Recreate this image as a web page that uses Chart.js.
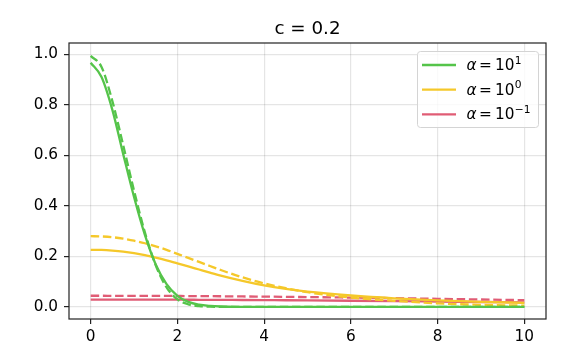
<!DOCTYPE html>
<html>
<head>
<meta charset="utf-8">
<title>c = 0.2</title>
<script src="https://cdn.jsdelivr.net/npm/chart.js@4.4.0/dist/chart.umd.min.js"></script>
<style>
    html, body { margin: 0; padding: 0; background: #fff; }
    #wrap { width: 586px; height: 359px; }
</style>
</head>
<body>
<div id="wrap"><canvas id="LineChart" width="586" height="359"></canvas></div>
<script>
// === data ===
const xVals = [0, 0.25, 0.5, 0.75, 1, 1.25, 1.5, 1.75, 2, 2.25, 2.5, 2.75, 3, 3.5, 4, 4.5, 5, 6, 7, 8, 9, 10];

// alpha = 10^1
const greenSolid  = [0.967, 0.910, 0.780, 0.605, 0.435, 0.285, 0.168, 0.090, 0.044, 0.020, 0.009, 0.004, 0.0015, 0.0003, 0.0001, 0, 0, 0, 0, 0, 0, 0];
const greenDashed = [0.994, 0.950, 0.815, 0.640, 0.460, 0.295, 0.165, 0.077, 0.030, 0.010, 0.003, 0.001, 0.0003, 0, 0, 0, 0, 0, 0, 0, 0, 0];
// alpha = 10^0
const yellowSolid  = [0.226, 0.2255, 0.223, 0.219, 0.213, 0.205, 0.195, 0.184, 0.172, 0.160, 0.148, 0.136, 0.124, 0.103, 0.085, 0.071, 0.060, 0.045, 0.034, 0.026, 0.020, 0.016];
const yellowDashed = [0.280, 0.279, 0.276, 0.270, 0.262, 0.252, 0.240, 0.226, 0.210, 0.194, 0.178, 0.162, 0.146, 0.117, 0.093, 0.074, 0.058, 0.037, 0.024, 0.014, 0.008, 0.005];
// alpha = 10^-1
const redSolid  = [0.0290, 0.0290, 0.0290, 0.0290, 0.0289, 0.0288, 0.0287, 0.0286, 0.0284, 0.0283, 0.0281, 0.0279, 0.0277, 0.0273, 0.0268, 0.0262, 0.0256, 0.0242, 0.0227, 0.0210, 0.0193, 0.0176];
const redDashed = [0.0440, 0.0440, 0.0439, 0.0439, 0.0438, 0.0437, 0.0435, 0.0433, 0.0431, 0.0429, 0.0426, 0.0423, 0.0420, 0.0413, 0.0406, 0.0397, 0.0388, 0.0368, 0.0345, 0.0319, 0.0293, 0.0267];

const xTicks = [0, 2, 4, 6, 8, 10];
const yTicks = [0, 0.2, 0.4, 0.6, 0.8, 1.0];
const legendExp = ['1', '0', '\u22121'];
const chartTitle = 'c = 0.2';

const green = '#55c44a', yellow = '#f5c82a', red = '#e05c75';
const dash = [8.5, 3.7];
const font = "'DejaVu Sans', sans-serif";

function pts(arr) {
    return xVals.map((x, i) => ({x: x, y: arr[i]}));
}

function line(data, color, dashed, legend) {
    return {
        data: pts(data),
        borderColor: color,
        borderWidth: 2.3,
        borderDash: dashed ? dash : [],
        pointRadius: 0,
        cubicInterpolationMode: 'monotone',
        fill: false,
        legendExp: legend
    };
}

// === title, frame and legend (matplotlib look) ===
const mplExtras = {
    id: 'mplExtras',
    afterDraw(chart) {
        const ctx = chart.ctx, a = chart.chartArea;
        ctx.save();

        // frame
        ctx.strokeStyle = '#222';
        ctx.lineWidth = 1.2;
        ctx.setLineDash([]);
        ctx.strokeRect(a.left, a.top, a.right - a.left, a.bottom - a.top);

        // title
        ctx.fillStyle = '#000';
        ctx.font = '18.3px ' + font;
        ctx.textAlign = 'center';
        ctx.textBaseline = 'alphabetic';
        ctx.fillText(chartTitle, (a.left + a.right) / 2, 33.5);

        // legend box
        const bw = 121, bh = 76;
        const bx = a.right - 8 - bw, by = a.top + 8;
        ctx.beginPath();
        ctx.roundRect(bx + 0.5, by + 0.5, bw, bh, 3);
        ctx.fillStyle = 'rgba(255,255,255,0.8)';
        ctx.fill();
        ctx.strokeStyle = '#d4d4d4';
        ctx.lineWidth = 1;
        ctx.stroke();

        const items = chart.data.datasets.filter(d => d.legendExp !== undefined);
        items.forEach((d, i) => {
            const cy = by + 14 + i * 24.7;
            ctx.beginPath();
            ctx.strokeStyle = d.borderColor;
            ctx.lineWidth = 2.3;
            ctx.moveTo(bx + 5, cy);
            ctx.lineTo(bx + 39, cy);
            ctx.stroke();

            const base = cy + 5;
            let x = bx + 49.5;
            ctx.fillStyle = '#000';
            ctx.textAlign = 'left';
            ctx.font = 'italic 15.3px ' + font;
            ctx.fillText('\u03b1', x, base);
            x += ctx.measureText('\u03b1').width + 2.5;
            ctx.font = '15.3px ' + font;
            ctx.fillText('=', x, base);
            x += ctx.measureText('=').width + 3;
            ctx.fillText('10', x, base);
            x += ctx.measureText('10').width + 0.5;
            ctx.font = '10.7px ' + font;
            ctx.fillText(d.legendExp, x, base - 6.5);
        });
        ctx.restore();
    }
};

// === chart ===
var ctxLine = document.getElementById('LineChart').getContext('2d');
var myChart = new Chart(ctxLine, {
    type: 'line',
    data: {
        datasets: [
            line(redDashed, red, true),
            line(redSolid, red, false, legendExp[2]),
            line(yellowDashed, yellow, true),
            line(yellowSolid, yellow, false, legendExp[1]),
            line(greenDashed, green, true),
            line(greenSolid, green, false, legendExp[0])
        ].reverse()
    },
    options: {
        responsive: false,
        devicePixelRatio: 1,
        animation: false,
        layout: { padding: { top: 43, right: 40, left: 0, bottom: 0 } },
        plugins: {
            legend: { display: false },
            title: { display: false },
            tooltip: { enabled: false }
        },
        scales: {
            x: {
                type: 'linear',
                min: -0.5,
                max: 10.5,
                afterBuildTicks: axis => { axis.ticks = xTicks.map(v => ({value: v})); },
                afterFit: s => { s.height = 40; },
                grid: { color: 'rgba(0,0,0,0.1)', lineWidth: 1.2, tickLength: 5, tickColor: '#222' },
                border: { display: false },
                ticks: { color: '#000', padding: 4, maxRotation: 0, font: { family: font, size: 15.3 } }
            },
            y: {
                type: 'linear',
                min: -0.048,
                max: 1.045,
                afterBuildTicks: axis => { axis.ticks = yTicks.map(v => ({value: v})); },
                afterFit: s => { s.width = 69; },
                grid: { color: 'rgba(0,0,0,0.1)', lineWidth: 1.2, tickLength: 5, tickColor: '#222' },
                border: { display: false },
                ticks: { color: '#000', padding: 6, font: { family: font, size: 15.3 }, callback: v => v.toFixed(1) }
            }
        }
    },
    plugins: [mplExtras]
});
</script>
</body>
</html>
